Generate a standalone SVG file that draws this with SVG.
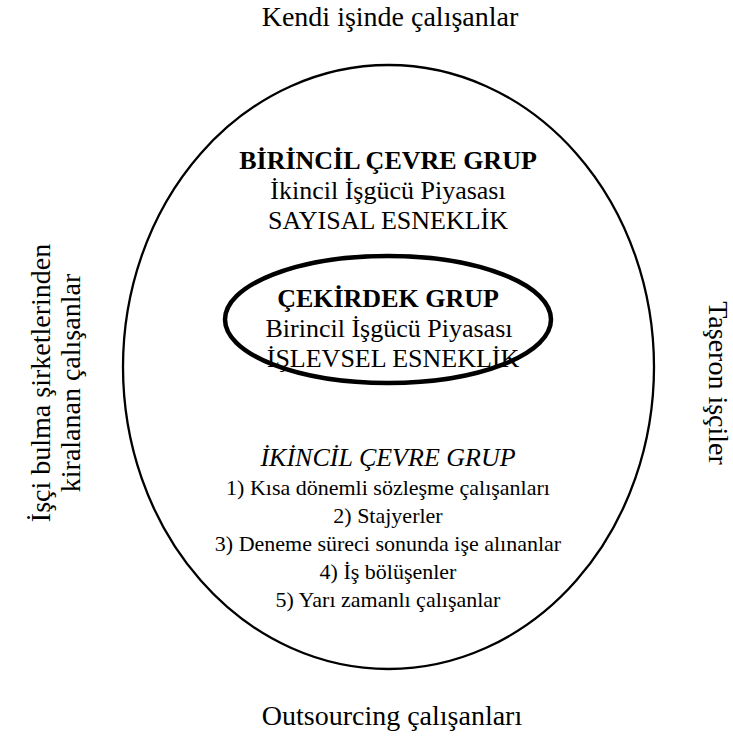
<svg xmlns="http://www.w3.org/2000/svg" width="733" height="738" viewBox="0 0 733 738">
<style>
text{font-family:"Liberation Serif","Times New Roman",serif;fill:#000;text-anchor:middle}
.o{font-size:28px}
.m{font-size:26px}
.b{font-weight:bold}
.i{font-style:italic}
.s{font-size:22px}
</style>
<rect width="733" height="738" fill="#fff"/>
<g id="outer">
<ellipse cx="388.5" cy="367" rx="265.5" ry="302" fill="none" stroke="#000" stroke-width="2.3"/>
<text class="m b" x="388" y="169">BİRİNCİL ÇEVRE GRUP</text>
<text class="m" x="388" y="199">İkincil İşgücü Piyasası</text>
<text class="m" x="388" y="229">SAYISAL ESNEKLİK</text>
</g>
<g id="core">
<ellipse cx="388" cy="319.5" rx="163" ry="63.5" fill="none" stroke="#000" stroke-width="4.5"/>
<text class="m b" x="388" y="307">ÇEKİRDEK GRUP</text>
<text class="m" x="389" y="337">Birincil İşgücü Piyasası</text>
<text class="m" x="393" y="367">İŞLEVSEL ESNEKLİK</text>
</g>
<g id="secondary">
<text class="m i" x="388" y="466">İKİNCİL ÇEVRE GRUP</text>
<text class="s" x="388" y="495">1) Kısa dönemli sözleşme çalışanları</text>
<text class="s" x="388" y="523">2) Stajyerler</text>
<text class="s" x="388" y="551">3) Deneme süreci sonunda işe alınanlar</text>
<text class="s" x="388" y="579">4) İş bölüşenler</text>
<text class="s" x="388" y="607">5) Yarı zamanlı çalışanlar</text>
</g>
<g id="top"><text class="o" x="390" y="26">Kendi işinde çalışanlar</text></g>
<g id="bottom"><text class="o" x="392" y="725">Outsourcing çalışanları</text></g>
<g id="left">
<text class="o" transform="translate(50,383) rotate(-90)">İşçi bulma şirketlerinden</text>
<text class="o" transform="translate(80,383) rotate(-90)">kiralanan çalışanlar</text>
</g>
<g id="right"><text class="o" transform="translate(709,383) rotate(90)">Taşeron işçiler</text></g>
<g id="connectors"/>
</svg>
